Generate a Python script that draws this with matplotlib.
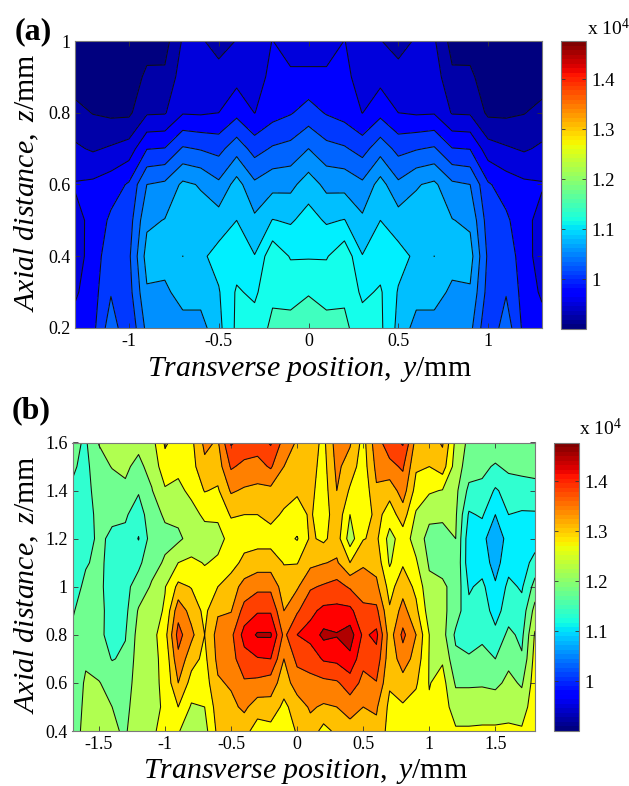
import numpy as np
import matplotlib
matplotlib.use("Agg")
import matplotlib.pyplot as plt
from matplotlib.cm import ScalarMappable
from matplotlib.colors import Normalize

plt.rcParams['font.family'] = ['Liberation Serif', 'DejaVu Serif']
plt.rcParams['mathtext.fontset'] = 'custom'
plt.rcParams['mathtext.rm'] = 'Liberation Serif'
plt.rcParams['mathtext.it'] = 'Liberation Serif:italic'
plt.rcParams['mathtext.bf'] = 'Liberation Serif:bold'

# Panel (a): transverse position y, axial distance z, values in units of 1e4
y_a = [-1.3,-1.2,-1.1,-1.0,-0.9,-0.8,-0.7,-0.6,-0.5,-0.4,-0.3,-0.2,-0.1,0.0,
       0.1,0.2,0.3,0.4,0.5,0.6,0.7,0.8,0.9,1.0,1.1,1.2,1.3]
z_a = [1.0,0.9,0.8,0.7,0.6,0.5,0.4,0.3,0.2]
columns_a = [
 [.905,.917,.938,.959,.982,.972,.968,.976,.990],
 [.905,.910,.929,.952,.985,.987,.991,.995,.998],
 [.905,.910,.925,.958,.993,1.010,1.021,1.028,1.045],
 [.905,.910,.925,.966,1.008,1.018,1.025,1.020,1.008],
 [.915,.937,.952,1.004,1.055,1.075,1.090,1.077,1.062],
 [.920,.935,.953,1.006,1.060,1.081,1.090,1.075,1.062],
 [.958,.968,.978,1.033,1.085,1.090,1.1051,1.090,1.070],
 [.958,.968,.977,1.028,1.078,1.090,1.100,1.090,1.070],
 [.945,.965,.980,1.022,1.060,1.092,1.114,1.103,1.098],
 [.956,.972,.998,1.045,1.090,1.105,1.118,1.133,1.135],
 [.970,.972,.9795,1.020,1.060,1.085,1.106,1.125,1.142],
 [.9805,.985,.995,1.033,1.072,1.106,1.148,1.151,1.160],
 [.965,.986,1.003,1.038,1.073,1.102,1.128,1.148,1.162],
 [.960,.988,1.015,1.055,1.093,1.115,1.128,1.153,1.172],
 [.965,.986,1.003,1.038,1.073,1.102,1.128,1.148,1.162],
 [.9805,.985,.995,1.033,1.072,1.106,1.148,1.151,1.160],
 [.970,.972,.9795,1.020,1.060,1.085,1.106,1.125,1.142],
 [.956,.972,.998,1.045,1.090,1.105,1.118,1.133,1.135],
 [.945,.965,.980,1.022,1.060,1.092,1.114,1.103,1.098],
 [.958,.968,.977,1.028,1.078,1.090,1.100,1.090,1.070],
 [.958,.968,.978,1.033,1.085,1.090,1.1051,1.090,1.070],
 [.920,.935,.953,1.006,1.060,1.081,1.090,1.075,1.062],
 [.915,.937,.952,1.004,1.055,1.075,1.090,1.077,1.062],
 [.905,.910,.925,.966,1.008,1.018,1.025,1.020,1.008],
 [.905,.910,.925,.958,.993,1.010,1.021,1.028,1.045],
 [.905,.910,.929,.952,.985,.987,.991,.995,.998],
 [.905,.917,.938,.959,.982,.972,.968,.976,.990],
]
levels_a = [.90,.93,.955,.98,1.005,1.03,1.055,1.08,1.105,1.13,1.155,1.19]
fills_a = ['#00007F','#0000A8','#0000DC','#0000FF','#0038FF','#0064FF','#0090FF','#00BFFF','#00F0FF','#14FFEB','#40FFBF']

# Panel (b)
y_b = [-1.7,-1.6,-1.5,-1.4,-1.3,-1.2,-1.1,-1.0,-0.9,-0.8,-0.7,-0.6,-0.5,-0.4,-0.3,-0.2,-0.1,0.0,
       0.1,0.2,0.3,0.4,0.5,0.6,0.7,0.8,0.9,1.0,1.1,1.2,1.3,1.4,1.5,1.6,1.7,1.8]
z_b = [1.6,1.5,1.4,1.3,1.2,1.1,1.0,0.9,0.8,0.7,0.6,0.5,0.4]
columns_b = [
 [1.19,1.185,1.175,1.165,1.16,1.165,1.17,1.177,1.185,1.19,1.195,1.2,1.205],
 [1.175,1.17,1.165,1.165,1.17,1.178,1.185,1.195,1.205,1.215,1.225,1.228,1.23],
 [1.222,1.205,1.20,1.19,1.185,1.185,1.185,1.187,1.185,1.20,1.222,1.226,1.23],
 [1.232,1.222,1.20,1.185,1.175,1.172,1.17,1.17,1.172,1.178,1.205,1.22,1.226],
 [1.235,1.225,1.215,1.185,1.17,1.17,1.17,1.17,1.178,1.186,1.195,1.205,1.215],
 [1.228,1.212,1.184,1.16,1.138,1.172,1.196,1.224,1.235,1.24,1.245,1.25,1.25],
 [1.245,1.232,1.218,1.205,1.2,1.205,1.225,1.24,1.245,1.25,1.25,1.25,1.255],
 [1.305,1.285,1.255,1.225,1.21,1.225,1.258,1.265,1.285,1.27,1.268,1.265,1.27],
 [1.285,1.27,1.25,1.23,1.212,1.26,1.31,1.365,1.395,1.37,1.34,1.30,1.262],
 [1.29,1.285,1.27,1.245,1.235,1.268,1.298,1.325,1.35,1.315,1.285,1.255,1.245],
 [1.35,1.33,1.302,1.268,1.24,1.258,1.275,1.29,1.30,1.29,1.28,1.26,1.245],
 [1.335,1.32,1.295,1.265,1.25,1.265,1.30,1.335,1.355,1.35,1.335,1.32,1.31],
 [1.425,1.385,1.345,1.305,1.27,1.285,1.32,1.338,1.37,1.365,1.345,1.33,1.315],
 [1.405,1.37,1.335,1.30,1.285,1.31,1.355,1.395,1.435,1.405,1.375,1.348,1.315],
 [1.40,1.365,1.33,1.30,1.285,1.32,1.37,1.415,1.465,1.417,1.37,1.32,1.28],
 [1.425,1.385,1.33,1.31,1.285,1.32,1.37,1.415,1.465,1.42,1.36,1.325,1.285],
 [1.365,1.34,1.315,1.295,1.275,1.298,1.32,1.34,1.37,1.34,1.32,1.29,1.27],
 [1.335,1.325,1.305,1.285,1.257,1.298,1.335,1.375,1.42,1.39,1.36,1.32,1.305],
 [1.32,1.315,1.31,1.305,1.306,1.33,1.375,1.41,1.435,1.395,1.37,1.345,1.325],
 [1.29,1.285,1.28,1.275,1.292,1.338,1.385,1.43,1.47,1.425,1.37,1.335,1.285],
 [1.36,1.35,1.34,1.33,1.32,1.345,1.395,1.43,1.463,1.43,1.375,1.34,1.31],
 [1.345,1.32,1.295,1.26,1.24,1.30,1.375,1.43,1.48,1.45,1.40,1.36,1.32],
 [1.285,1.28,1.27,1.27,1.298,1.335,1.36,1.39,1.412,1.39,1.37,1.34,1.31],
 [1.365,1.35,1.335,1.315,1.308,1.325,1.35,1.39,1.43,1.405,1.378,1.345,1.33],
 [1.40,1.37,1.315,1.28,1.245,1.255,1.285,1.305,1.32,1.315,1.305,1.29,1.285],
 [1.425,1.385,1.36,1.32,1.28,1.295,1.325,1.355,1.39,1.36,1.325,1.295,1.285],
 [1.325,1.305,1.285,1.255,1.244,1.265,1.29,1.31,1.34,1.325,1.305,1.285,1.27],
 [1.32,1.30,1.265,1.23,1.205,1.215,1.23,1.24,1.26,1.258,1.258,1.265,1.27],
 [1.345,1.32,1.258,1.23,1.20,1.21,1.225,1.23,1.235,1.255,1.275,1.28,1.28],
 [1.25,1.24,1.23,1.225,1.22,1.215,1.21,1.20,1.172,1.19,1.215,1.24,1.265],
 [1.21,1.20,1.17,1.135,1.116,1.115,1.135,1.15,1.16,1.185,1.215,1.24,1.265],
 [1.20,1.19,1.17,1.145,1.115,1.12,1.15,1.16,1.17,1.195,1.215,1.245,1.265],
 [1.21,1.175,1.135,1.10,1.065,1.085,1.105,1.125,1.15,1.18,1.21,1.245,1.265],
 [1.20,1.19,1.155,1.14,1.12,1.125,1.15,1.16,1.19,1.21,1.23,1.25,1.265],
 [1.20,1.19,1.165,1.135,1.115,1.12,1.135,1.155,1.17,1.185,1.215,1.24,1.265],
 [1.20,1.19,1.17,1.135,1.12,1.155,1.195,1.235,1.265,1.275,1.28,1.285,1.285],
]
levels_b = [1.06,1.10,1.14,1.18,1.22,1.26,1.30,1.34,1.38,1.42,1.46,1.50]
fills_b = ['#00AFFF','#00EFFF','#30FFD0','#70FF90','#B0FF50','#FFFF00','#FFC000','#FF8000','#FF4000','#FF0000','#B00000']

xticks_a = [-1,-0.5,0,0.5,1]
yticks_a = [0.2,0.4,0.6,0.8,1]
xticks_b = [-1.5,-1,-0.5,0,0.5,1,1.5]
yticks_b = [0.4,0.6,0.8,1,1.2,1.4,1.6]
cbar_ticks = [1,1.1,1.2,1.3,1.4]
CLIM = (0.9, 1.477)
XLABEL = r'$\mathit{Transverse\ position,\ y}$/mm'
YLABEL = r'$\mathit{Axial\ distance,\ z}$/mm'

W, H = 629, 786
fig = plt.figure(figsize=(W/100, H/100), dpi=100)
def box(l, t, r, b):
    return [l/W, 1-b/H, (r-l)/W, (b-t)/H]

cmap = plt.get_cmap('jet', 64)
norm = Normalize(*CLIM)
GRAY = '#7a7a7a'
TS = 13
CS = 13.5
LS = 21.5

def fmt(v):
    return ('%g' % v)

def panel(rect, crect, ys, zs, cols, levels, fills, xt, yt, tag, tagxy, xlim, ylim, xlabel_xy, ylabel_xy, exp_xy):
    ax = fig.add_axes(box(*rect))
    Z = np.array(cols).T
    Y, ZZ = np.meshgrid(ys, zs)
    ax.contourf(Y, ZZ, Z, levels=levels, colors=fills)
    ax.contour(Y, ZZ, Z, levels=levels[1:-1], colors='#101010', linewidths=0.75)
    ax.set_xlim(*xlim); ax.set_ylim(*ylim)
    ax.set_xticks(xt); ax.set_xticklabels([fmt(v) for v in xt])
    ax.set_yticks(yt); ax.set_yticklabels([fmt(v) for v in yt])
    ax.tick_params(direction='in', length=3.5, width=0.6, labelsize=TS, top=True, right=True, pad=3.5, color='#333333')
    for s in ax.spines.values():
        s.set_color(GRAY); s.set_linewidth(0.8)
    fig.text(xlabel_xy[0]/W, 1-xlabel_xy[1]/H, XLABEL, fontsize=LS, ha='center', va='center')
    fig.text(ylabel_xy[0]/W, 1-ylabel_xy[1]/H, YLABEL, fontsize=LS, ha='center', va='center', rotation=90)
    fig.text(tagxy[0]/W, 1-tagxy[1]/H, tag, fontsize=23, fontweight='bold', ha='left', va='center')
    cax = fig.add_axes(box(*crect))
    cb = fig.colorbar(ScalarMappable(norm, cmap), cax=cax)
    cb.set_ticks(cbar_ticks); cb.set_ticklabels([fmt(v) for v in cbar_ticks])
    cb.outline.set_edgecolor(GRAY); cb.outline.set_linewidth(0.8)
    cax.tick_params(direction='in', length=3, width=0.6, labelsize=CS, pad=4, color='#333333', left=True, right=True)
    fig.text(exp_xy[0]/W, 1-exp_xy[1]/H, r'x 10$^4$', fontsize=14, ha='left', va='center')

panel((75,41,542,328), (561,41,586,329), y_a, z_a, columns_a, levels_a, fills_a, xticks_a, yticks_a,
      '(a)', (15,32), (-1.3,1.3), (0.2,1.0), (309,370), (27,183), (587,28))
panel((72.5,442.5,535,731), (553.5,442.5,579,731), y_b, z_b, columns_b, levels_b, fills_b, xticks_b, yticks_b,
      '(b)', (12,411), (-1.7,1.8), (0.4,1.6), (305,772), (27,585), (579,429))

fig.savefig('out.png', dpi=100)
